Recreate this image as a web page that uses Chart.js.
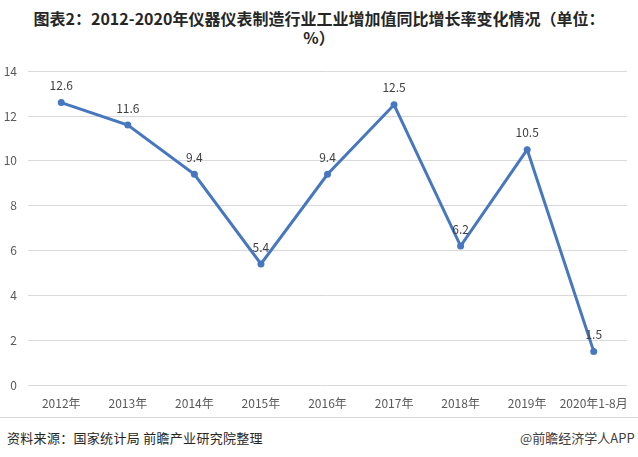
<!DOCTYPE html>
<html>
<head>
<meta charset="utf-8">
<script src="https://cdn.jsdelivr.net/npm/chart.js@4"></script>
<style>
  body { margin: 0; width: 638px; height: 457px; background: #fff; position: relative; overflow: hidden;
         font-family: "Noto Sans CJK SC", "Microsoft YaHei", sans-serif; }
  #titulo { position: absolute; left: 0; top: 9px; width: 638px; text-align: center;
            font-size: 16px; font-weight: bold; line-height: 19px; color: #262626; }
  #lienzo { position: absolute; left: 0; top: 53px; width: 638px; height: 363px; }
  #separador { position: absolute; left: 0; top: 417px; width: 638px; height: 1px; background: #d9d9d9; }
  #fuente { position: absolute; left: 7px; top: 428px; font-size: 13px; letter-spacing: 0.3px; color: #262626; }
  #marca { position: absolute; left: 520px; top: 428px; font-size: 13px; color: #404040; white-space: nowrap; }
</style>
</head>
<body>
<div id="titulo">图表2：2012-2020年仪器仪表制造行业工业增加值同比增长率变化情况（单位：<br>%）</div>
<div id="lienzo"><canvas id="grafico"></canvas></div>
<div id="separador"></div>
<div id="fuente">资料来源：国家统计局 前瞻产业研究院整理</div>
<div id="marca">@前瞻经济学人APP</div>
<script>
// datos del gráfico
const categorias = ['2012年', '2013年', '2014年', '2015年', '2016年', '2017年', '2018年', '2019年', '2020年1-8月'];
const crecimiento = [12.6, 11.6, 9.4, 5.4, 9.4, 12.5, 6.2, 10.5, 1.5];
const ticksY = [0, 2, 4, 6, 8, 10, 12, 14];

// etiquetas encima de cada punto
const etiquetasPlugin = {
    id: 'etiquetas',
    afterDatasetsDraw(chart) {
        const ctx = chart.ctx;
        const meta = chart.getDatasetMeta(0);
        ctx.save();
        ctx.font = '12px "Noto Sans CJK SC", sans-serif';
        ctx.fillStyle = '#404040';
        ctx.textAlign = 'center';
        ctx.textBaseline = 'middle';
        meta.data.forEach((p, i) => {
            ctx.fillText(crecimiento[i].toString(), p.x, p.y - 17);
        });
        ctx.restore();
    }
};

const ctx = document.getElementById('grafico').getContext('2d');
new Chart(ctx, {
    type: 'line',
    data: {
        labels: categorias,
        datasets: [{
            data: crecimiento,
            borderColor: '#4677bf',
            backgroundColor: '#4677bf',
            borderWidth: 3,
            pointRadius: 3.5,
            pointBorderWidth: 0,
            tension: 0,
            fill: false
        }]
    },
    options: {
        responsive: true,
        maintainAspectRatio: false,
        animation: false,
        layout: { padding: { top: 3, right: 11, left: 0, bottom: 0 } },
        plugins: { legend: { display: false }, tooltip: { enabled: false } },
        scales: {
            y: {
                min: 0, max: 14,
                afterFit: s => { s.width = 28; },
                afterBuildTicks: s => { s.ticks = ticksY.map(v => ({ value: v })); },
                border: { display: false },
                grid: { color: '#d9d9d9', drawTicks: false },
                ticks: { padding: 11, color: '#595959', font: { size: 12, family: '"Noto Sans CJK SC", sans-serif' } }
            },
            x: {
                offset: true,
                afterFit: s => { s.height = 31; },
                border: { display: false },
                grid: { display: false, offset: true },
                ticks: { padding: 3, maxRotation: 0, autoSkip: false, color: '#595959', font: { size: 12, family: '"Noto Sans CJK SC", sans-serif' } }
            }
        }
    },
    plugins: [etiquetasPlugin]
});
</script>
</body>
</html>
